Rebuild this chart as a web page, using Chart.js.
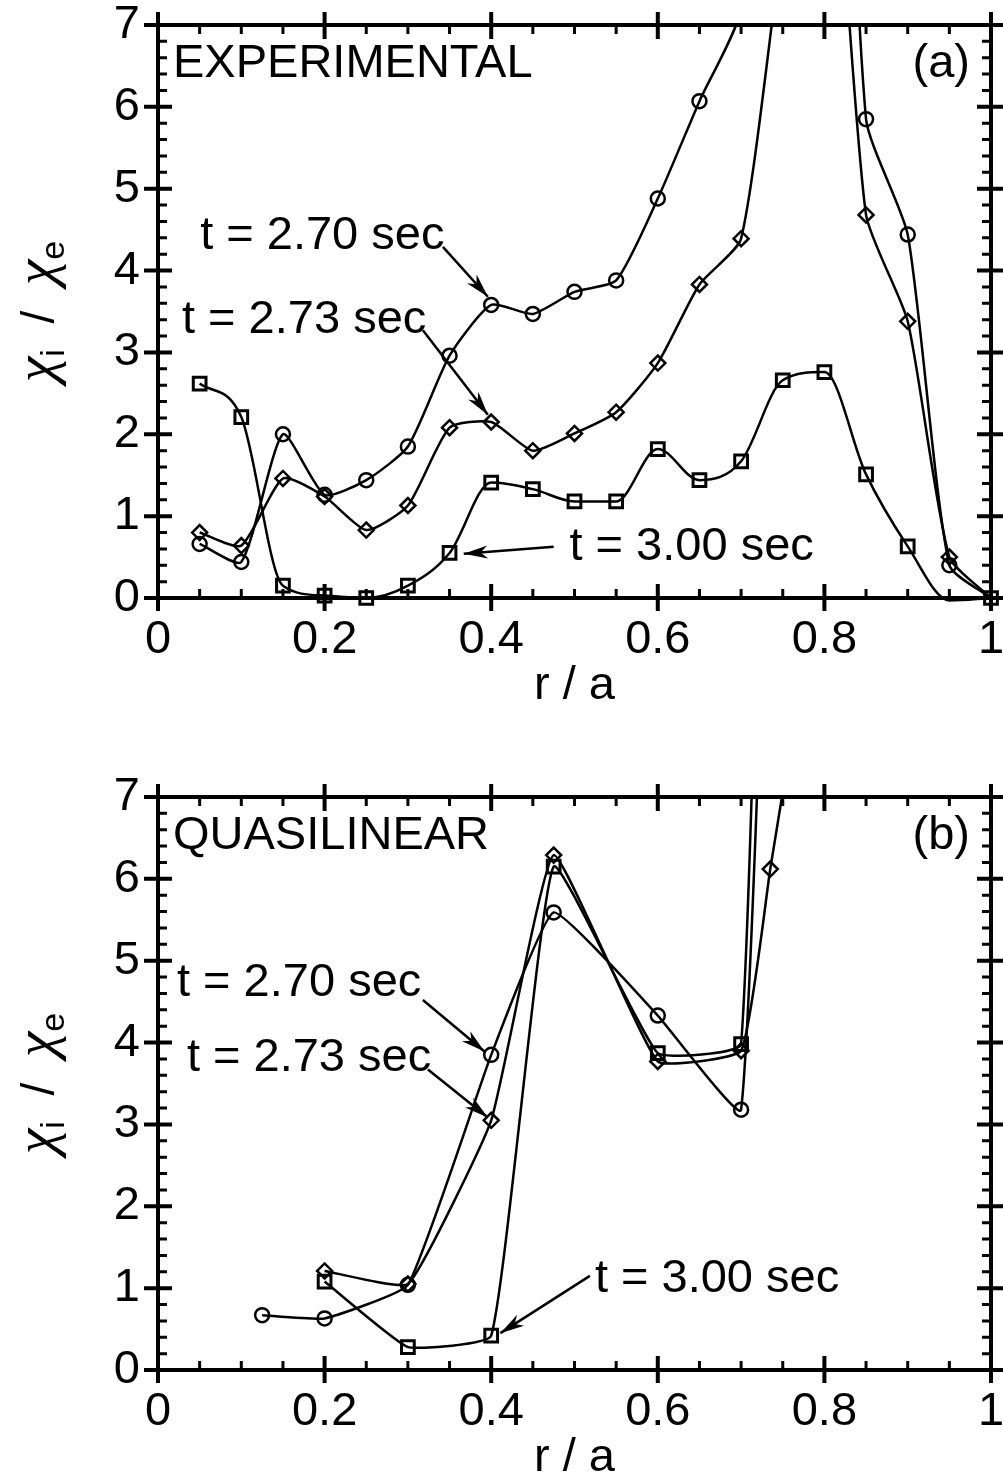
<!DOCTYPE html>
<html>
<head>
<meta charset="utf-8">
<script src="https://cdn.jsdelivr.net/npm/chart.js@4.4.1/dist/chart.umd.min.js"></script>
<style>
  html, body { margin: 0; padding: 0; background: #fff; overflow: hidden; }
  #wrap { position: relative; width: 1003px; height: 1483px; }
  canvas { position: absolute; left: 0; }
  #chartA { top: 0; }
  #chartB { top: 772px; }
</style>
</head>
<body>
<div id="wrap">
  <canvas id="chartA" width="1003" height="740"></canvas>
  <canvas id="chartB" width="1003" height="740"></canvas>
</div>
<script>
/* ============================
   DATA
============================ */

// axis ticks
const xTicks = [0, 0.2, 0.4, 0.6, 0.8, 1];
const yTicks = [0, 1, 2, 3, 4, 5, 6, 7];

// (a) experimental, chi_i / chi_e vs r/a
const xA = [0.05, 0.1, 0.15, 0.2, 0.25, 0.3, 0.35, 0.4, 0.45, 0.5,
            0.55, 0.6, 0.65, 0.7, 0.75, 0.8, 0.85, 0.9, 0.95, 1.0];
const a270 = [0.66, 0.44, 2.00, 1.26, 1.44, 1.85, 2.96, 3.58, 3.47, 3.74,
              3.88, 4.88, 6.07, 7.2, 14, 15.5, 5.85, 4.44, 0.40, 0.00];
const a273 = [0.80, 0.64, 1.46, 1.24, 0.83, 1.13, 2.08, 2.15, 1.80, 2.01,
              2.27, 2.87, 3.83, 4.39, 8.0, 10.5, 4.68, 3.38, 0.50, 0.00];
const a300 = [2.62, 2.21, 0.15, 0.03, 0.00, 0.15, 0.55, 1.41, 1.33, 1.18,
              1.18, 1.82, 1.44, 1.67, 2.66, 2.76, 1.51, 0.63, -0.03, 0.00];

// (b) quasilinear
const xB270 = [0.125, 0.2, 0.3, 0.4, 0.475, 0.6, 0.7, 0.75];
const b270  = [0.67, 0.63, 1.04, 3.85, 5.59, 4.33, 3.18, 16.8];
const xB273 = [0.2, 0.3, 0.4, 0.475, 0.6, 0.7, 0.735, 0.8];
const b273  = [1.21, 1.05, 3.05, 6.29, 3.77, 3.90, 6.12, 10.2];
const xB300 = [0.2, 0.3, 0.4, 0.475, 0.6, 0.7, 0.75];
const b300  = [1.08, 0.28, 0.42, 6.15, 3.87, 3.98, 22.8];

const labels = ["t = 2.70 sec", "t = 2.73 sec", "t = 3.00 sec"];

/* ============================
   STYLE
============================ */

const FONT = "'Liberation Sans', Arial, Helvetica, sans-serif";
const GREEK = "italic 58px 'Liberation Serif', 'DejaVu Serif', serif";
const FONT_SIZE = 47;
const Y_MIN = 0, Y_MAX = 7;

// annotation anchors in data units (text baseline-left, arrow tail -> head)
const notesA = [
  { text: labels[0], tx: 0.0506, ty: 4.26, ax0: 0.342, ay0: 4.29, ax1: 0.396, ay1: 3.68 },
  { text: labels[1], tx: 0.0288, ty: 3.24, ax0: 0.318, ay0: 3.27, ax1: 0.396, ay1: 2.24 },
  { text: labels[2], tx: 0.494,  ty: 0.464, ax0: 0.475, ay0: 0.627, ax1: 0.367, ay1: 0.54 }
];
const notesB = [
  { text: labels[0], tx: 0.0228, ty: 4.565, ax0: 0.318, ay0: 4.52, ax1: 0.392, ay1: 3.89 },
  { text: labels[1], tx: 0.0347, ty: 3.65,  ax0: 0.324, ay0: 3.67, ax1: 0.396, ay1: 3.085 },
  { text: labels[2], tx: 0.5245, ty: 0.955, ax0: 0.5185, ay0: 1.15, ax1: 0.411, ay1: 0.45 }
];

/* ============================
   HELPERS
============================ */

function pts(xs, ys){
  return xs.map((x, i) => ({ x: x, y: ys[i] }));
}

// hide markers outside the plotted range (and the end point where the
// line just runs into the corner under the square marker)
function markerRadius(r, hideLast){
  return ctx => {
    const v = ctx.raw ? ctx.raw.y : 0;
    if(v < Y_MIN || v > Y_MAX) return 0;
    if(hideLast && ctx.dataIndex === ctx.dataset.data.length - 1) return 0;
    return r;
  };
}

function series(data, style, r, bw, curve, hideLast){
  const ds = {
    data: data,
    borderColor: "#000",
    borderWidth: 2.5,
    backgroundColor: "rgba(0,0,0,0)",
    pointStyle: style,
    pointRadius: markerRadius(r, hideLast),
    pointBorderWidth: bw,
    pointBorderColor: "#000",
    pointBackgroundColor: "rgba(0,0,0,0)",
    fill: false,
    clip: { left: 16, right: 16, top: 0, bottom: 16 }
  };
  if(curve === "monotone") ds.cubicInterpolationMode = "monotone";
  else ds.tension = curve;
  return ds;
}

function arrow(ctx, x0, y0, x1, y1){
  ctx.beginPath();
  ctx.moveTo(x0, y0);
  ctx.lineTo(x1, y1);
  ctx.lineWidth = 2.5;
  ctx.stroke();

  const ang = Math.atan2(y1 - y0, x1 - x0);
  const len = 24, half = 6.5, notch = 17;
  ctx.save();
  ctx.translate(x1, y1);
  ctx.rotate(ang);
  ctx.beginPath();
  ctx.moveTo(0, 0);
  ctx.lineTo(-len, -half);
  ctx.lineTo(-notch, 0);
  ctx.lineTo(-len, half);
  ctx.closePath();
  ctx.fill();
  ctx.restore();
}

/* ============================
   PLUGINS
============================ */

// frame with crossing major ticks and inward minor ticks on all four sides
const framePlugin = {
  id: "frame",
  beforeDatasetsDraw(chart){
    const { ctx, chartArea: a, scales: { x, y } } = chart;
    ctx.save();
    ctx.strokeStyle = "#000";
    ctx.lineCap = "butt";

    ctx.lineWidth = 4;
    ctx.strokeRect(a.left, a.top, a.right - a.left, a.bottom - a.top);

    // x ticks (minor every 0.05)
    for(let i = 0; i <= 20; i++){
      const px = x.getPixelForValue(i * 0.05);
      const major = i % 4 === 0;
      ctx.lineWidth = major ? 4 : 3;
      ctx.beginPath();
      if(major){
        ctx.moveTo(px, a.bottom + 13); ctx.lineTo(px, a.bottom - 14);
        ctx.moveTo(px, a.top - 13);    ctx.lineTo(px, a.top + 14);
      } else {
        ctx.moveTo(px, a.bottom); ctx.lineTo(px, a.bottom - 9);
        ctx.moveTo(px, a.top);    ctx.lineTo(px, a.top + 9);
      }
      ctx.stroke();
    }

    // y ticks (minor every 0.2)
    for(let i = 0; i <= 35; i++){
      const py = y.getPixelForValue(i * 0.2);
      const major = i % 5 === 0;
      ctx.lineWidth = major ? 4 : 3;
      ctx.beginPath();
      if(major){
        ctx.moveTo(a.left - 14, py);  ctx.lineTo(a.left + 14, py);
        ctx.moveTo(a.right - 14, py); ctx.lineTo(a.right + 14, py);
      } else {
        ctx.moveTo(a.left, py);  ctx.lineTo(a.left + 9, py);
        ctx.moveTo(a.right, py); ctx.lineTo(a.right - 9, py);
      }
      ctx.stroke();
    }
    ctx.restore();
  }
};

// text labels, arrows, panel tags and the chi_i / chi_e axis title
const textPlugin = {
  id: "texts",
  afterDraw(chart, args, opts){
    const { ctx, chartArea: a, scales: { x, y } } = chart;
    ctx.save();
    ctx.fillStyle = "#000";
    ctx.strokeStyle = "#000";
    ctx.textBaseline = "alphabetic";
    ctx.font = FONT_SIZE + "px " + FONT;

    // panel name + tag
    ctx.textAlign = "left";
    ctx.fillText(opts.name, a.left + 15, a.top + 52);
    ctx.textAlign = "right";
    ctx.fillText(opts.tag, a.right - 21, a.top + 52);

    // time labels with arrows
    ctx.textAlign = "left";
    opts.notes.forEach(n => {
      ctx.fillText(n.text, x.getPixelForValue(n.tx), y.getPixelForValue(n.ty));
      arrow(ctx,
        x.getPixelForValue(n.ax0), y.getPixelForValue(n.ay0),
        x.getPixelForValue(n.ax1), y.getPixelForValue(n.ay1));
    });

    // y title: chi_i / chi_e, rotated
    const parts = [
      { t: "\u03c7", font: GREEK, dy: 0 },
      { t: "i",      font: "34px " + FONT,  dy: 10 },
      { t: "  /  ",  font: "46px " + FONT,  dy: 0 },
      { t: "\u03c7", font: GREEK, dy: 0 },
      { t: "e",      font: "34px " + FONT,  dy: 10 }
    ];
    let total = 0;
    parts.forEach(p => {
      ctx.font = p.font;
      p.w = ctx.measureText(p.t).width;
      total += p.w;
    });
    ctx.translate(54, (a.top + a.bottom) / 2);
    ctx.rotate(-Math.PI / 2);
    let u = -total / 2;
    parts.forEach(p => {
      ctx.font = p.font;
      ctx.fillText(p.t, u, p.dy);
      u += p.w;
    });
    ctx.restore();
  }
};

/* ============================
   CHARTS
============================ */

function makeChart(id, datasets, name, tag, notes){
  const canvas = document.getElementById(id);
  const tickFont = { family: FONT, size: FONT_SIZE };

  return new Chart(canvas, {
    type: "line",
    data: { datasets: datasets },
    options: {
      responsive: false,
      animation: false,
      events: [],
      layout: { padding: { top: 25, right: 5, left: 0, bottom: 0 } },
      plugins: {
        legend: { display: false },
        tooltip: { enabled: false },
        texts: { name: name, tag: tag, notes: notes }
      },
      scales: {
        x: {
          type: "linear",
          min: 0,
          max: 1,
          grid: { display: false, drawTicks: false },
          border: { display: false },
          afterBuildTicks: s => { s.ticks = xTicks.map(v => ({ value: v })); },
          ticks: {
            color: "#000",
            font: tickFont,
            padding: 14,
            maxRotation: 0,
            autoSkip: false,
            callback: v => String(v)
          },
          title: {
            display: true,
            text: "r / a",
            color: "#000",
            font: tickFont,
            padding: { top: 0, bottom: 26 }
          },
          afterFit: s => { s.height = 142; s.paddingLeft = 0; s.paddingRight = 0; }
        },
        y: {
          type: "linear",
          min: Y_MIN,
          max: Y_MAX,
          grid: { display: false, drawTicks: false },
          border: { display: false },
          afterBuildTicks: s => { s.ticks = yTicks.map(v => ({ value: v })); },
          ticks: {
            color: "#000",
            font: tickFont,
            padding: 18,
            autoSkip: false,
            callback: v => String(v)
          },
          afterFit: s => { s.width = 158; s.paddingTop = 0; s.paddingBottom = 0; }
        }
      },
      elements: { line: { capBezierPoints: false } }
    },
    plugins: [framePlugin, textPlugin]
  });
}

makeChart("chartA", [
  series(pts(xA, a270), "circle", 7, 2.5, 0.2, true),
  series(pts(xA, a273), "rectRot", 7.5, 2.5, 0.2, true),
  series(pts(xA, a300), "rect", 9, 3, "monotone", false)
], "EXPERIMENTAL", "(a)", notesA);

makeChart("chartB", [
  series(pts(xB270, b270), "circle", 7, 2.5, 0.12, false),
  series(pts(xB273, b273), "rectRot", 7.5, 2.5, 0.12, false),
  series(pts(xB300, b300), "rect", 9, 3, 0.12, false)
], "QUASILINEAR", "(b)", notesB);
</script>
</body>
</html>
